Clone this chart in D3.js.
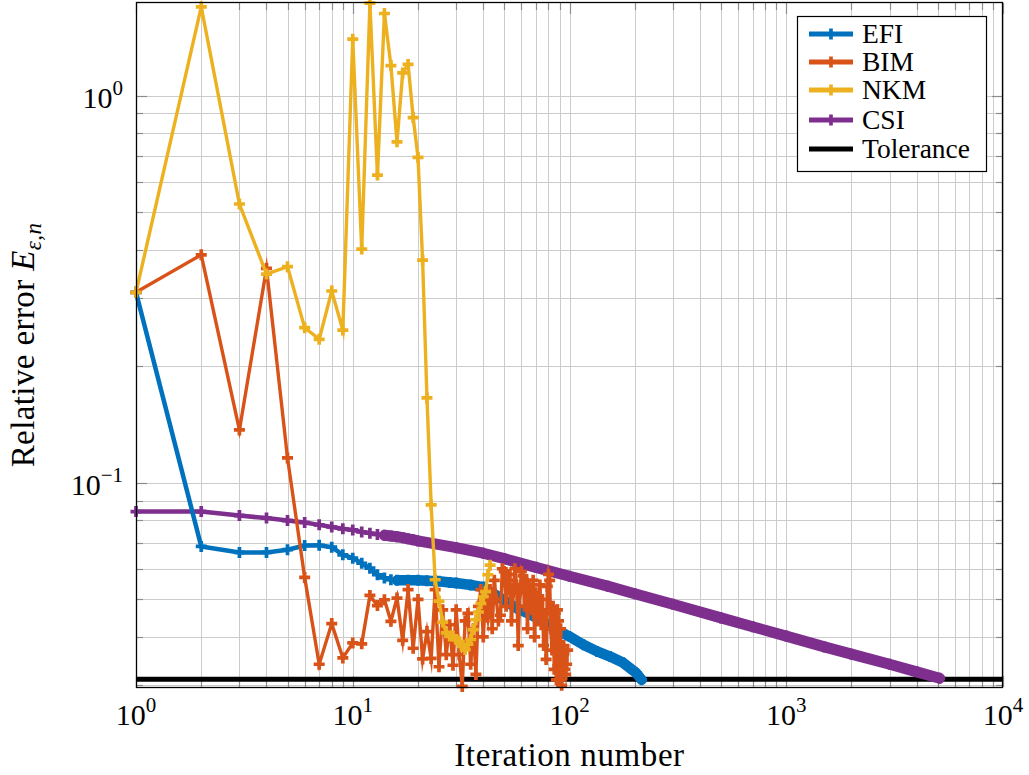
<!DOCTYPE html>
<html>
<head>
<meta charset="utf-8">
<script src="https://cdn.jsdelivr.net/npm/d3@7"></script>
<style>
  body { margin: 0; background: #fff; }
  text { font-family: "Liberation Serif", "Times New Roman", serif; fill: #000; }
</style>
</head>
<body>
<svg id="chart" width="1029" height="775"></svg>
<script>
// ---- data: relative error per iteration ----
const efiIter = [1,2,3,4,5,6,7,8,9,10,11,12,13,14,15,16,18,20,22,25,28,30,35,40,43,51,57,66,75,87,100,116,134,154,177,203,215];
const efiVal  = [0.3105,0.0685,0.0661,0.0661,0.0672,0.0689,0.0690,0.0682,0.0652,0.0639,0.0620,0.0602,0.0579,0.0568,0.0562,0.0560,0.0560,0.0560,0.0559,0.0557,0.0553,0.0551,0.0545,0.0538,0.0524,0.0494,0.0475,0.0457,0.0439,0.0418,0.0401,0.0382,0.0367,0.0356,0.0343,0.0323,0.0310];

const bimIter = d3.range(1, 99);
const bimVal  = [0.3105,0.388,0.137,0.358,0.116,0.0570,0.0340,0.0433,0.0353,0.0386,
                 0.0384,0.0512,0.0482,0.0499,0.0439,0.0504,0.0392,0.0530,0.0374,0.0500,
                 0.0351,0.0413,0.0352,0.0530,0.0335,0.0470,0.0360,0.0430,0.0338,0.0470,
                 0.0360,0.0298,0.0440,0.0460,0.0340,0.0420,0.0320,0.0480,0.0530,0.0400,
                 0.0500,0.0450,0.0530,0.0420,0.0560,0.0500,0.0440,0.0455,0.0600,0.0590,
                 0.0480,0.0560,0.0580,0.0440,0.0520,0.0600,0.0545,0.0380,0.0520,0.0590,
                 0.0575,0.0480,0.0560,0.0420,0.0545,0.0530,0.0470,0.0560,0.0400,0.0520,
                 0.0450,0.0480,0.0545,0.0430,0.0500,0.0380,0.0460,0.0350,0.0540,0.0580,
                 0.0560,0.0420,0.0370,0.0480,0.0330,0.0460,0.0310,0.0470,0.0440,0.0310,
                 0.0420,0.0300,0.0350,0.0380,0.0330,0.0320,0.0340,0.0370];

const nkmIter = d3.range(1, 44);
const nkmVal  = [0.3105,1.695,0.525,0.346,0.3616,0.2517,0.2348,0.313,0.248,1.399,
                 0.4016,1.733,0.6235,1.630,1.196,0.760,1.145,1.204,0.878,0.693,
                 0.376,0.1657,0.0877,0.0562,0.0495,0.0437,0.0410,0.0402,0.0402,0.0394,
                 0.0389,0.0378,0.0371,0.0383,0.0394,0.0418,0.0443,0.0464,0.0488,0.0508,
                 0.0524,0.0579,0.0613];

const csiIter = [1,2,3,4,5,6,7,8,9,10,11,12,13,14,15,16,17,18,19,20,30,40,50,70,100,150,200,300,500,700,1000,1500,2000,3000,4000,5100];
const csiVal  = [0.0843,0.0843,0.0823,0.0811,0.0799,0.0790,0.0779,0.0769,0.0761,0.0756,
                 0.0747,0.0741,0.0736,0.0732,0.0729,0.0726,0.0722,0.0717,0.0713,0.0708,
                 0.0680,0.0658,0.0637,0.0605,0.0574,0.0541,0.0517,0.0486,0.0448,0.0425,
                 0.0402,0.0377,0.0361,0.0340,0.0325,0.0313];

const tolerance = 0.0311;

const seriesNames  = ["EFI", "BIM", "NKM", "CSI", "Tolerance"];
const seriesColors = ["#0072BD", "#D95319", "#EDB120", "#7E2F8E", "#000000"];

const xTickVals = [1, 10, 100, 1000, 10000];
const xTickExps = ["0", "1", "2", "3", "4"];
const yTickVals = [0.1, 1];
const yTickExps = ["\u22121", "0"];

// ---- layout ----
const svg = d3.select("#chart");
const L = 136, R = 1003, T = 3, B = 687;

const x = d3.scaleLog().domain([1, 1e4]).range([L, R]);
const y = d3.scaleLog().domain([0.0297, 1.735]).range([B, T]);

// minor values per decade
const xMinor = [];
for (let k = 0; k < 4; k++) for (let m = 2; m <= 9; m++) xMinor.push(m * Math.pow(10, k));
const yMinor = [];
for (let k = -2; k < 1; k++) for (let m = 2; m <= 9; m++) {
  const v = m * Math.pow(10, k);
  if (v >= y.domain()[0] && v <= y.domain()[1]) yMinor.push(v);
}

// grid
const grid = svg.append("g").attr("stroke", "#cccccc").attr("stroke-width", 1);
xMinor.concat(xTickVals).forEach(v => {
  const px = Math.round(x(v)) + 0.5;
  grid.append("line").attr("x1", px).attr("x2", px).attr("y1", T).attr("y2", B);
});
yMinor.concat(yTickVals).forEach(v => {
  const py = Math.round(y(v)) + 0.5;
  grid.append("line").attr("x1", L).attr("x2", R).attr("y1", py).attr("y2", py);
});

// inward ticks on all four sides
const ticks = svg.append("g").attr("stroke", "#8c8c8c").attr("stroke-width", 1.2);
function xTick(v, len) {
  const px = Math.round(x(v)) + 0.5;
  ticks.append("line").attr("x1", px).attr("x2", px).attr("y1", B).attr("y2", B - len);
  ticks.append("line").attr("x1", px).attr("x2", px).attr("y1", T).attr("y2", T + len);
}
function yTick(v, len) {
  const py = Math.round(y(v)) + 0.5;
  ticks.append("line").attr("x1", L).attr("x2", L + len).attr("y1", py).attr("y2", py);
  ticks.append("line").attr("x1", R).attr("x2", R - len).attr("y1", py).attr("y2", py);
}
xMinor.forEach(v => xTick(v, 7));
xTickVals.forEach(v => xTick(v, 11));
yMinor.forEach(v => yTick(v, 7));
yTickVals.forEach(v => yTick(v, 11));

// clip for data lines
svg.append("clipPath").attr("id", "plotClip")
  .append("rect").attr("x", L).attr("y", T).attr("width", R - L).attr("height", B - T);

const plot = svg.append("g");
const lines = plot.append("g").attr("clip-path", "url(#plotClip)");
const line = d3.line().x(d => x(d[0])).y(d => y(d[1]));
const crossPath = "M-5.5,0H5.5M0,-5.5V5.5";
const markW = 3.7;

// tolerance
lines.append("path")
  .attr("d", line([[1, tolerance], [1e4, tolerance]]))
  .attr("stroke", seriesColors[4]).attr("stroke-width", 4.8).attr("fill", "none");

function drawSeries(iter, vals, color, lw, bandFrom, bandW) {
  const pts = iter.map((n, i) => [n, vals[i]]);
  const grp = plot.append("g");
  if (bandFrom) {
    grp.append("path")
      .attr("d", line(pts.filter(d => d[0] >= bandFrom)))
      .attr("stroke", color).attr("stroke-width", bandW).attr("fill", "none")
      .attr("stroke-linejoin", "round").attr("stroke-linecap", "round");
  }
  grp.append("path")
    .attr("d", line(pts))
    .attr("stroke", color).attr("stroke-width", lw).attr("fill", "none")
    .attr("stroke-linejoin", "miter").attr("stroke-miterlimit", 10);
  grp.selectAll("path.mk").data(pts).join("path")
    .attr("class", "mk")
    .attr("transform", d => `translate(${x(d[0])},${y(d[1])})`)
    .attr("d", crossPath)
    .attr("stroke", color).attr("stroke-width", markW).attr("fill", "none");
}

drawSeries(csiIter, csiVal, seriesColors[3], 4.5, 14, 11);
drawSeries(efiIter, efiVal, seriesColors[0], 4.5, 16, 10.5);
drawSeries(bimIter, bimVal, seriesColors[1], 3.4, null, 0);
drawSeries(nkmIter, nkmVal, seriesColors[2], 3.4, null, 0);

// axis box
svg.append("rect").attr("x", L + 0.5).attr("y", T - 0.5).attr("width", R - L - 1).attr("height", B - T + 1)
  .attr("fill", "none").attr("stroke", "#000").attr("stroke-width", 1.3);

// tick labels
xTickVals.forEach((v, i) => {
  const t = svg.append("text").attr("x", x(v)).attr("y", 725)
    .attr("text-anchor", "middle").attr("font-size", 30);
  t.append("tspan").text("10");
  t.append("tspan").attr("dy", -13).attr("font-size", 21).text(xTickExps[i]);
});
yTickVals.forEach((v, i) => {
  const t = svg.append("text").attr("x", 123).attr("y", y(v) + 12)
    .attr("text-anchor", "end").attr("font-size", 30);
  t.append("tspan").text("10");
  t.append("tspan").attr("dy", -13).attr("font-size", 21).text(yTickExps[i]);
});

// axis labels
svg.append("text").attr("x", (L + R) / 2).attr("y", 766)
  .attr("text-anchor", "middle").attr("font-size", 33).attr("letter-spacing", 0.6)
  .text("Iteration number");

const yl = svg.append("text")
  .attr("transform", `translate(34,${(T + B) / 2}) rotate(-90)`)
  .attr("text-anchor", "middle").attr("font-size", 33).attr("letter-spacing", 0.4);
yl.append("tspan").text("Relative error ");
yl.append("tspan").attr("font-style", "italic").text("E");
yl.append("tspan").attr("font-style", "italic").attr("font-size", 23).attr("dy", 7).text("\u03B5,n");

// legend
const lg = svg.append("g");
lg.append("rect").attr("x", 797.5).attr("y", 16.5).attr("width", 189).attr("height", 155)
  .attr("fill", "#fff").attr("stroke", "#000").attr("stroke-width", 1.2);
const legendY = [34, 62, 90, 120, 149];
seriesNames.forEach((name, i) => {
  const cy = legendY[i];
  lg.append("line").attr("x1", 809).attr("x2", 853).attr("y1", cy).attr("y2", cy)
    .attr("stroke", seriesColors[i]).attr("stroke-width", 4.8);
  if (i < 4) {
    lg.append("path").attr("transform", `translate(831,${cy})`).attr("d", crossPath)
      .attr("stroke", seriesColors[i]).attr("stroke-width", markW).attr("fill", "none");
  }
  lg.append("text").attr("x", 862).attr("y", cy + 9).attr("font-size", 27.5).text(name);
});
</script>
</body>
</html>
